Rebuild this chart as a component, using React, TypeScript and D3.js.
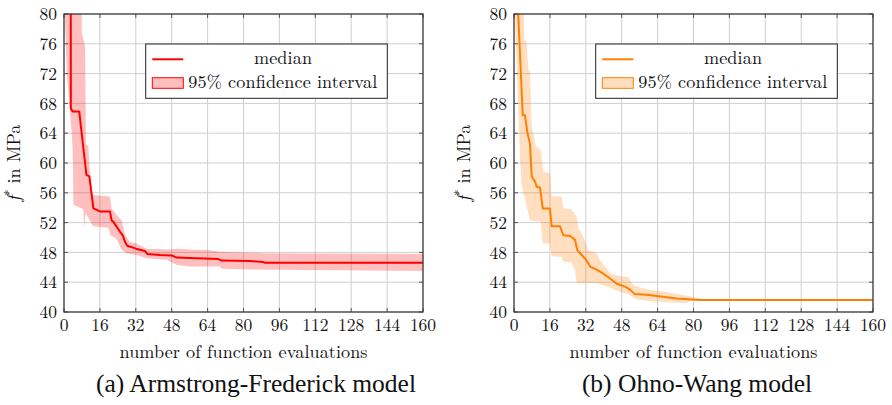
import React from "react";
import * as d3 from "d3";

// ---------- data ----------
const xTicks = [0, 16, 32, 48, 64, 80, 96, 112, 128, 144, 160];
const yTicks = [40, 44, 48, 52, 56, 60, 64, 68, 72, 76, 80];

// (a) Armstrong-Frederick
const afMedianX = [3.0, 3.05, 3.9, 6.8, 7.5, 9.4, 10.0, 11.3, 13.1, 14.6, 16, 20.5, 21.2, 22, 24.9, 26.2, 27.2, 28.2, 30.2, 32, 36.1, 37.1, 42.8, 48, 50.2, 59, 68.8, 70.3, 82.9, 88.8, 89.6, 160];
const afMedianY = [85, 67.3, 66.9, 66.9, 65.0, 60.0, 58.4, 58.2, 53.9, 53.7, 53.5, 53.5, 52.3, 52.1, 50.8, 50.3, 49.4, 48.9, 48.7, 48.5, 48.2, 47.8, 47.65, 47.6, 47.3, 47.2, 47.1, 46.9, 46.85, 46.7, 46.6, 46.6];
const afUpperX = [0.2, 7.8, 7.9, 9.4, 9.8, 10.8, 11.6, 12.8, 20.5, 21.2, 23.5, 25.7, 27.2, 29.4, 32.4, 36.8, 47.2, 50.2, 56.2, 65.1, 69.5, 80, 88.8, 160];
const afUpperY = [95, 95, 77.5, 75.6, 62.6, 62.2, 58.6, 55.7, 55.5, 53.9, 53.0, 52.3, 50.3, 49.4, 49.2, 48.5, 48.4, 48.5, 48.4, 48.3, 48.1, 48.0, 47.9, 47.8];
const afLowerX = [0.2, 0.4, 1.2, 2.4, 3.4, 3.9, 4.2, 8.6, 9.1, 9.6, 12.8, 13.1, 19.8, 20.8, 22.7, 24.2, 24.9, 25.7, 27.6, 32.4, 36.8, 45.8, 50.2, 56.2, 69.5, 70.3, 82.9, 160];
const afLowerY = [95, 80, 72, 68, 64, 61.7, 54.4, 53.8, 51.3, 53.3, 51.6, 51.5, 51.3, 50.2, 50.0, 49.4, 48.8, 48.4, 47.9, 47.65, 47.2, 47.0, 46.3, 46.1, 46.1, 45.8, 45.7, 45.5];

// (b) Ohno-Wang
const owMedianX = [1.8, 3.9, 4.9, 5.9, 7.1, 7.9, 9.4, 10.1, 11.6, 12.8, 16, 16.8, 20.5, 22, 25, 27.2, 28.2, 30.2, 32.1, 33.9, 36.8, 39.1, 42.8, 45.8, 49.5, 51.7, 53.9, 59.1, 63.6, 72.5, 82.9, 160];
const owMedianY = [80.5, 66.4, 66.4, 64.2, 62.6, 58.2, 57.5, 56.8, 56.7, 53.9, 53.9, 51.5, 51.5, 50.3, 50.2, 49.7, 48.3, 47.65, 47.0, 46.1, 45.7, 45.3, 44.5, 43.8, 43.4, 43.0, 42.4, 42.3, 42.15, 41.8, 41.6, 41.6];
const owUpperX = [0.2, 4.2, 4.5, 5.6, 6.4, 7.1, 7.9, 9.8, 11.9, 13.1, 16, 16.8, 21.2, 22, 25.7, 27.9, 28.7, 30.9, 33.1, 36.8, 38.3, 42.8, 47.2, 50.9, 53.2, 57.6, 60.6, 68.1, 72.5, 78.4, 82.9, 84, 160];
const owUpperY = [95, 95, 76.5, 76.3, 72.5, 72.3, 64.9, 62.2, 61.7, 58.8, 58.7, 55.5, 55.5, 53.9, 53.8, 52.8, 51.2, 50.1, 48.3, 47.9, 47.0, 45.2, 44.8, 44.7, 43.6, 43.2, 42.95, 42.7, 42.4, 42.1, 41.75, 41.65, 41.65];
const owLowerX = [0.2, 0.4, 1.2, 1.9, 2.7, 3.4, 7.1, 11.9, 12.8, 16, 16.8, 21.2, 22, 25.7, 27.2, 27.9, 36.8, 39.8, 43.5, 47.2, 50.2, 54.7, 60.6, 72.5, 77, 79, 84, 160];
const owLowerY = [95, 80, 73, 67.1, 60.4, 57.0, 52.3, 52.1, 49.2, 49.2, 47.5, 47.4, 46.75, 46.6, 45.6, 43.85, 43.85, 43.6, 43.2, 42.7, 42.5, 41.7, 41.45, 41.25, 41.2, 41.5, 41.55, 41.55];

const legendLabels = ["median", "95% confidence interval"];
const xLabel = "number of function evaluations";

// ---------- layout ----------
const W = 892;
const H = 405;
const PLOT_W = 359;
const TOP = 14;
const BOTTOM = 312;
const LM = { fontFamily: '"Latin Modern Roman", "Liberation Serif", serif' };
const TIMES = { fontFamily: '"Liberation Serif", "Tinos", "Times New Roman"' };

type PanelProps = {
  id: string;
  x0: number;
  medX: number[];
  medY: number[];
  upX: number[];
  upY: number[];
  loX: number[];
  loY: number[];
  color: string;
  caption: string;
  captionX: number;
};

function Panel(p: PanelProps) {
  const x = d3.scaleLinear().domain([0, 160]).range([p.x0, p.x0 + PLOT_W]);
  const y = d3.scaleLinear().domain([40, 80]).range([BOTTOM, TOP]);
  const line = d3
    .line<[number, number]>()
    .x((d) => x(d[0]))
    .y((d) => y(d[1]));
  const med: [number, number][] = p.medX.map((v, i) => [v, p.medY[i]]);
  const up: [number, number][] = p.upX.map((v, i) => [v, p.upY[i]]);
  const lo: [number, number][] = p.loX.map((v, i) => [v, p.loY[i]]);
  const band = line(up.concat(lo.slice().reverse())) + "Z";
  const x1 = p.x0 + PLOT_W;
  const clipId = "clip-" + p.id;
  const lgX = p.x0 + 81.7;
  const lgY = 44;
  return (
    <g>
      <defs>
        <clipPath id={clipId}>
          <rect x={p.x0} y={TOP} width={PLOT_W} height={BOTTOM - TOP} />
        </clipPath>
      </defs>
      {/* grid */}
      {xTicks.map((t) => (
        <line key={"gx" + t} x1={x(t)} x2={x(t)} y1={TOP} y2={BOTTOM} stroke="#cfcfcf" strokeWidth={1} />
      ))}
      {yTicks.map((t) => (
        <line key={"gy" + t} x1={p.x0} x2={x1} y1={y(t)} y2={y(t)} stroke="#cfcfcf" strokeWidth={1} />
      ))}
      {/* ticks inward */}
      {xTicks.map((t) => (
        <g key={"tx" + t}>
          <line x1={x(t)} x2={x(t)} y1={BOTTOM} y2={BOTTOM - 4} stroke="#555" />
          <line x1={x(t)} x2={x(t)} y1={TOP} y2={TOP + 4} stroke="#555" />
        </g>
      ))}
      {yTicks.map((t) => (
        <g key={"ty" + t}>
          <line x1={p.x0} x2={p.x0 + 4} y1={y(t)} y2={y(t)} stroke="#555" />
          <line x1={x1} x2={x1 - 4} y1={y(t)} y2={y(t)} stroke="#555" />
        </g>
      ))}
      <g clipPath={`url(#${clipId})`}>
        <path d={band} fill={p.color} fillOpacity={0.25} stroke="none" />
        <path d={line(med) || ""} fill="none" stroke={p.color} strokeWidth={2} strokeLinejoin="round" />
      </g>
      {/* frame */}
      <rect x={p.x0} y={TOP} width={PLOT_W} height={BOTTOM - TOP} fill="none" stroke="#333" strokeWidth={1.2} />
      {/* tick labels */}
      {xTicks.map((t) => (
        <text key={"lx" + t} x={x(t)} y={331} textAnchor="middle" fontSize={17.5} fill="#111" style={LM}>
          {t}
        </text>
      ))}
      {yTicks.map((t) => (
        <text key={"ly" + t} x={p.x0 - 7} y={y(t)} dy="0.35em" textAnchor="end" fontSize={17.5} fill="#111" style={LM}>
          {t}
        </text>
      ))}
      {/* axis labels */}
      <text x={p.x0 + PLOT_W / 2} y={358} textAnchor="middle" fontSize={18.2} fill="#111" style={LM} textLength={248} lengthAdjust="spacing">
        {xLabel}
      </text>
      <text transform={`translate(${p.x0 - 44},${(TOP + BOTTOM) / 2}) rotate(-90)`} textAnchor="middle" fontSize={18.2} fill="#111" style={LM}>
        <tspan fontStyle="italic">f</tspan>
        <tspan fontSize={12.5} dy={-7}>*</tspan>
        <tspan dy={7}>{" in MPa"}</tspan>
      </text>
      {/* legend */}
      <rect x={lgX} y={lgY} width={241.6} height={54.3} fill="#fff" stroke="#222" strokeWidth={1} />
      <line x1={lgX + 6.6} x2={lgX + 37.6} y1={lgY + 15.3} y2={lgY + 15.3} stroke={p.color} strokeWidth={2} />
      <text x={lgX + 137.3} y={lgY + 20.3} textAnchor="middle" fontSize={18.2} fill="#111" style={LM} textLength={58} lengthAdjust="spacing">
        {legendLabels[0]}
      </text>
      <rect x={lgX + 6.6} y={lgY + 33.7} width={31} height={10.6} fill={p.color} fillOpacity={0.25} stroke={p.color} strokeWidth={1} />
      <text x={lgX + 42.6} y={lgY + 44.3} fontSize={18.2} fill="#111" style={LM} textLength={189} lengthAdjust="spacing">
        {legendLabels[1]}
      </text>
      {/* caption */}
      <text x={p.captionX} y={392} textAnchor="middle" fontSize={25.5} fill="#111" style={TIMES}>
        {p.caption}
      </text>
    </g>
  );
}

export default function App() {
  return (
    <svg width={W} height={H} style={{ position: "absolute", left: 0, top: 0, background: "#fff" }}>
      <rect width={W} height={H} fill="#fff" />
      <Panel
        id="af"
        x0={64}
        medX={afMedianX}
        medY={afMedianY}
        upX={afUpperX}
        upY={afUpperY}
        loX={afLowerX}
        loY={afLowerY}
        color="#ff0000"
        caption="(a) Armstrong-Frederick model"
        captionX={256}
      />
      <Panel
        id="ow"
        x0={514}
        medX={owMedianX}
        medY={owMedianY}
        upX={owUpperX}
        upY={owUpperY}
        loX={owLowerX}
        loY={owLowerY}
        color="#ff7f00"
        caption="(b) Ohno-Wang model"
        captionX={697}
      />
    </svg>
  );
}
